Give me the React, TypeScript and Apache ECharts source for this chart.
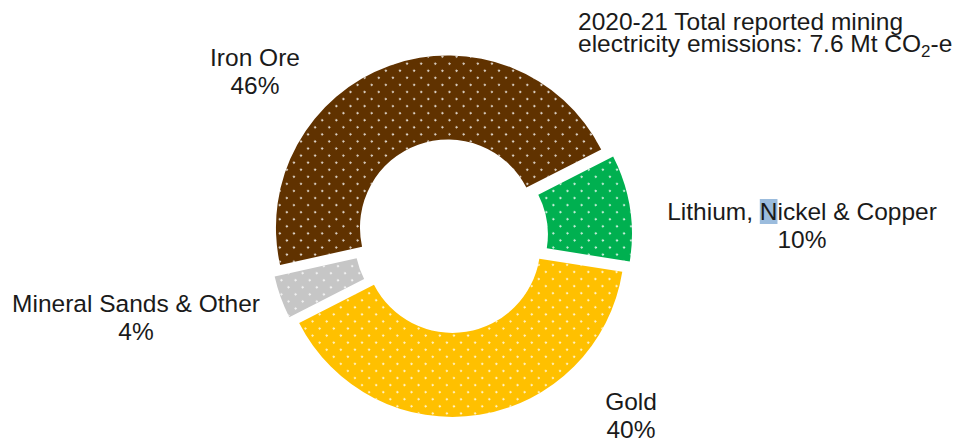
import React, { useEffect, useRef } from "react";
import * as echarts from "echarts";

// ---- Data ----
const CATEGORIES = ["Iron Ore", "Lithium, Nickel & Copper", "Gold", "Mineral Sands & Other"];
const SHARES = [46, 10, 40, 4]; // % of 2020-21 mining electricity emissions
const TITLE_LINES = ["2020-21 Total reported mining", "electricity emissions: 7.6 Mt CO{sub|2}-e"];

// ---- Styling / layout ----
const COLORS = ["#603200", "#00B050", "#FFC000", "#C6C6C6"];
const FONT = "Liberation Sans, Arial, sans-serif";
const TEXT = "#1a1a1a";
const FS = 24.5;
// label block centres (text layout, not marks)
const LABEL_ANCHORS = [
  [255, 71.5],
  [802, 225.5],
  [631, 415.5],
  [136, 317.5],
];

export default function App() {
  const ref = useRef<HTMLDivElement>(null);
  useEffect(() => {
    if (!ref.current) return;
    const chart = echarts.init(ref.current, undefined, { renderer: "svg" });
    const decal = {
      symbol: "circle",
      symbolSize: 1,
      color: "rgba(255,255,255,0.9)",
      dashArrayX: [2, 8],
      dashArrayY: [2, 8],
      rotation: Math.PI / 4,
    };
    const labelTexts = CATEGORIES.map((name, i) => ({
      type: "text",
      x: LABEL_ANCHORS[i][0],
      y: LABEL_ANCHORS[i][1],
      silent: true,
      style: {
        text: `${name.replace("Nickel", "{hl|N}ickel")}\n${SHARES[i]}%`,
        fontFamily: FONT,
        fontSize: FS,
        lineHeight: 28,
        fill: TEXT,
        align: "center",
        verticalAlign: "middle",
        rich: {
          hl: {
            fontFamily: FONT,
            fontSize: FS,
            lineHeight: 20,
            fill: TEXT,
            backgroundColor: "#9BBCDD",
          },
        },
      },
    }));
    chart.setOption({
      animation: false,
      backgroundColor: "#ffffff",
      graphic: [
        {
          type: "text",
          left: 578,
          top: 9,
          silent: true,
          style: {
            text: TITLE_LINES.join("\n"),
            fontFamily: FONT,
            fontSize: FS,
            lineHeight: 22,
            fill: TEXT,
            rich: {
              sub: {
                fontFamily: FONT,
                fontSize: 17,
                lineHeight: 4,
                padding: [16, 0, 0, 0],
                fill: TEXT,
              },
            },
          },
        },
        ...labelTexts,
      ],
      series: [
        {
          type: "pie",
          center: [451, 236],
          radius: [88, 172],
          startAngle: 192.6,
          clockwise: true,
          selectedMode: "multiple",
          selectedOffset: 9,
          label: { show: false },
          labelLine: { show: false },
          emphasis: { disabled: true },
          data: CATEGORIES.map((name, i) => ({
            name,
            value: SHARES[i],
            selected: true,
            itemStyle: { color: COLORS[i], decal },
            select: { itemStyle: { color: COLORS[i], decal } },
          })),
        },
      ],
    });
    return () => chart.dispose();
  }, []);
  return (
    <div
      ref={ref}
      style={{ position: "absolute", left: 0, top: 0, width: 957, height: 442 }}
    />
  );
}
